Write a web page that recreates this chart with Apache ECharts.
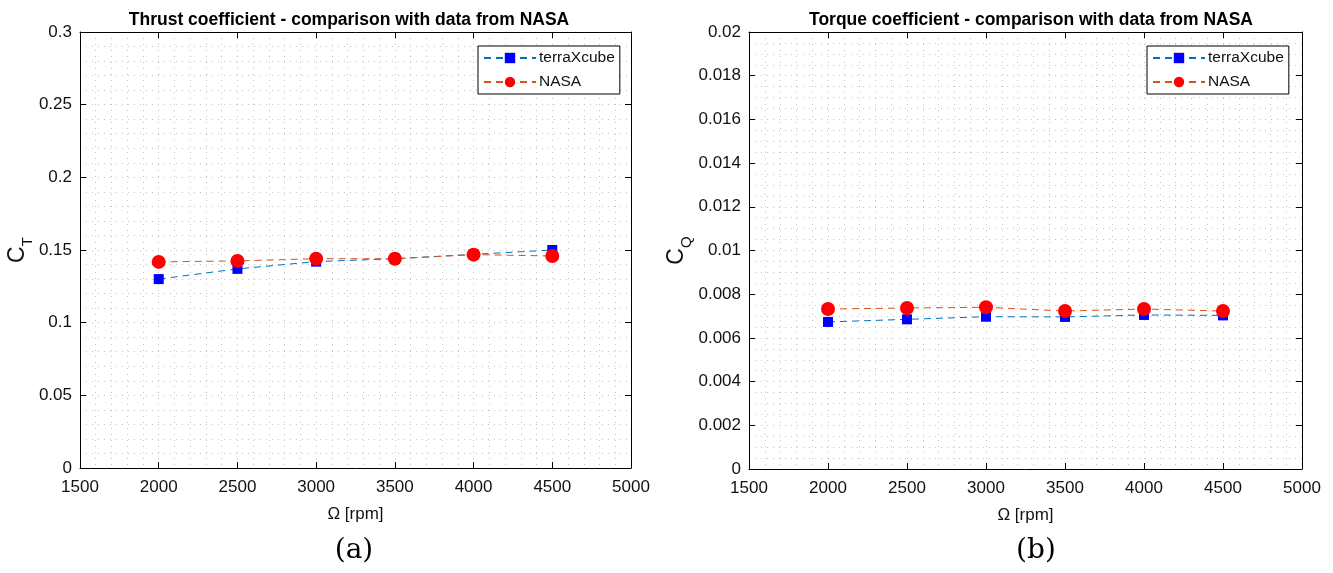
<!DOCTYPE html>
<html>
<head>
<meta charset="utf-8">
<script src="https://cdn.jsdelivr.net/npm/echarts@6/dist/echarts.min.js"></script>
<style>
html,body{margin:0;padding:0;background:#fff;}
#c{width:1333px;height:573px;}
</style>
</head>
<body>
<div id="c"></div>
<script>
// Data
const rpm = [2000, 2500, 3000, 3500, 4000, 4500];
const ctTerra = [0.130, 0.137, 0.142, 0.144, 0.147, 0.150];
const ctNasa  = [0.1418, 0.1425, 0.144, 0.144, 0.1468, 0.1459];
const cqTerra = [0.00673, 0.00685, 0.00697, 0.00696, 0.00705, 0.00703];
const cqNasa  = [0.00732, 0.00737, 0.0074, 0.00723, 0.00732, 0.00723];
const titles = ['Thrust coefficient - comparison with data from NASA', 'Torque coefficient - comparison with data from NASA'];
const subLabels = ['(a)', '(b)'];
const yNames = [['C', 'T'], ['C', 'Q']];
const xName = 'Ω [rpm]';

const font = "'Liberation Sans', Arial, Helvetica, sans-serif";
const pair = arr => rpm.map((x, i) => [x, arr[i]]);
const fmt = v => String(+(+v).toFixed(6));

const grids = [
  {left: 80, top: 32, width: 551, height: 436},
  {left: 749, top: 32, width: 553, height: 437}
];
const yCfg = [{max: 0.3, interval: 0.05, minor: 5}, {max: 0.02, interval: 0.002, minor: 4}];

const gridLine = {color: '#c4c4c4', type: [1, 5], width: 1};
const xAxes = [], yAxes = [];
[0, 1].forEach(g => {
  xAxes.push({
    type: 'value', gridIndex: g, min: 1500, max: 5000, interval: 500, position: 'bottom',
    axisLine: {show: true, onZero: false, lineStyle: {color: '#000', width: 1}},
    axisTick: {show: true, inside: true, length: 6, lineStyle: {color: '#000'}},
    axisLabel: {show: true, color: '#111', fontSize: 17, fontFamily: font, margin: 11, formatter: fmt},
    splitLine: {show: true, lineStyle: gridLine},
    minorTick: {show: false, splitNumber: 5},
    minorSplitLine: {show: true, lineStyle: gridLine},
    name: xName, nameLocation: 'middle', nameGap: 38,
    nameTextStyle: {fontSize: 17, color: '#111', fontFamily: font}
  });
  xAxes.push({
    type: 'value', gridIndex: g, min: 1500, max: 5000, interval: 500, position: 'top',
    axisLine: {show: true, onZero: false, lineStyle: {color: '#000', width: 1}},
    axisTick: {show: true, inside: true, length: 6, lineStyle: {color: '#000'}},
    axisLabel: {show: false}, splitLine: {show: false}
  });
  const yc = yCfg[g];
  yAxes.push({
    type: 'value', gridIndex: g, min: 0, max: yc.max, interval: yc.interval, position: 'left',
    axisLine: {show: true, onZero: false, lineStyle: {color: '#000', width: 1}},
    axisTick: {show: true, inside: true, length: 6, lineStyle: {color: '#000'}},
    axisLabel: {show: true, color: '#111', fontSize: 17, fontFamily: font, margin: 8, formatter: fmt},
    splitLine: {show: true, lineStyle: gridLine},
    minorTick: {show: false, splitNumber: yc.minor},
    minorSplitLine: {show: true, lineStyle: gridLine},
    name: '{a|' + yNames[g][0] + '}{b|' + yNames[g][1] + '}', nameLocation: 'middle', nameRotate: 90,
    nameGap: g === 0 ? 47 : 61,
    nameTextStyle: {
      rich: {
        a: {fontSize: 23, color: '#111', fontFamily: font, verticalAlign: 'bottom', lineHeight: 24},
        b: {fontSize: 15, color: '#111', fontFamily: font, verticalAlign: 'bottom', lineHeight: 15, padding: [0, 0, -6, 0]}
      }
    }
  });
  yAxes.push({
    type: 'value', gridIndex: g, min: 0, max: yc.max, interval: yc.interval, position: 'right',
    axisLine: {show: true, onZero: false, lineStyle: {color: '#000', width: 1}},
    axisTick: {show: true, inside: true, length: 6, lineStyle: {color: '#000'}},
    axisLabel: {show: false}, splitLine: {show: false}
  });
});

function mkSeries(name, data, g, lineColor, sym, symColor, size) {
  return {
    name: name, type: 'line', data: pair(data),
    xAxisIndex: g * 2, yAxisIndex: g * 2,
    symbol: sym, symbolSize: size, showSymbol: true,
    lineStyle: {color: lineColor, width: 1, type: [7, 5]},
    itemStyle: {color: symColor, borderWidth: 0},
    emphasis: {disabled: true}, animation: false, z: 3
  };
}

const series = [
  mkSeries('terraXcube', ctTerra, 0, '#0072BD', 'rect', '#0000FF', 10),
  mkSeries('NASA', ctNasa, 0, '#D95319', 'circle', '#FF0000', 14),
  mkSeries('terraXcube', cqTerra, 1, '#0072BD', 'rect', '#0000FF', 10),
  mkSeries('NASA', cqNasa, 1, '#D95319', 'circle', '#FF0000', 14)
];

function mkLegend(left) {
  return {
    data: ['terraXcube', 'NASA'], orient: 'vertical', left: left, top: 46,
    padding: [4, 5, 4, 5], itemWidth: 52, itemHeight: 13, itemGap: 8,
    borderColor: '#000', borderWidth: 1, backgroundColor: '#fff',
    textStyle: {fontSize: 15.5, color: '#111', fontFamily: font, padding: [0, 0, 0, -2]},
    selectedMode: false
  };
}

const option = {
  backgroundColor: '#fff',
  animation: false,
  title: [
    {text: titles[0], left: 344, top: 6, textAlign: 'center', textStyle: {fontSize: 17.5, fontWeight: 'bold', color: '#000', fontFamily: font}},
    {text: titles[1], left: 1026, top: 6, textAlign: 'center', textStyle: {fontSize: 17.5, fontWeight: 'bold', color: '#000', fontFamily: font}},
    {text: subLabels[0], left: 349, top: 532, textAlign: 'center', textStyle: {fontSize: 28, fontWeight: 'normal', color: '#000', fontFamily: "'DejaVu Serif', 'Liberation Serif', serif"}},
    {text: subLabels[1], left: 1031, top: 532, textAlign: 'center', textStyle: {fontSize: 28, fontWeight: 'normal', color: '#000', fontFamily: "'DejaVu Serif', 'Liberation Serif', serif"}}
  ],
  legend: [mkLegend(478), mkLegend(1147)],
  grid: grids,
  xAxis: xAxes,
  yAxis: yAxes,
  series: series
};

const chart = echarts.init(document.getElementById('c'), null, {renderer: 'canvas'});
chart.setOption(option);
</script>
</body>
</html>
